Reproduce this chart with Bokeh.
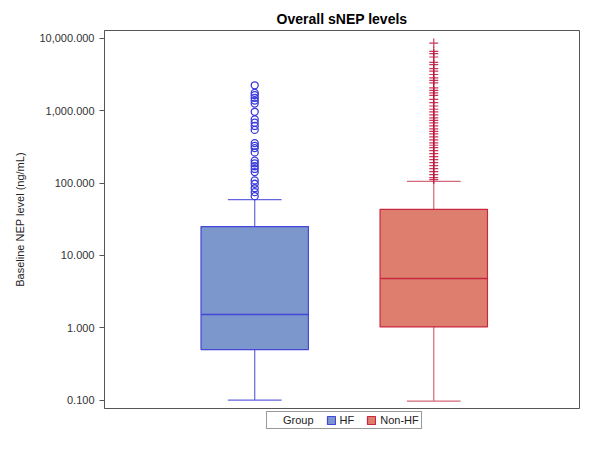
from bokeh.plotting import figure
from bokeh.layouts import column
from bokeh.models import Range1d, FixedTicker, NumeralTickFormatter, Legend, LegendItem
from bokeh.embed import file_html
from bokeh.resources import INLINE

# ---- data ----
groups = ["HF", "Non-HF"]
q1 = [0.50, 1.03]
median = [1.53, 4.79]
q3 = [25.1, 43.4]
whisker_low = [0.100, 0.097]
whisker_high = [59.0, 106.0]
hf_outliers = [2250, 1765, 1645, 1506, 1384, 1259, 968, 760, 685, 617, 544,
               357, 328, 305, 266, 205, 188, 171, 157, 142, 109, 98, 85, 75, 66]
nonhf_outliers = [8615, 6625, 6160, 5535, 4677, 4352, 3836, 3523, 3173, 2851,
                  2626, 2433, 2077, 1913, 1773, 1634, 1440, 1293, 1164, 1049,
                  964, 875, 796, 736, 680, 618, 562, 520, 480, 437, 397, 361,
                  334, 309, 281, 255, 232, 211, 192, 175, 159, 144, 131, 119, 112]
outliers = [hf_outliers, nonhf_outliers]
y_ticks = [0.1, 1, 10, 100, 1000, 10000]
legend_title = "Group"

# ---- styles ----
fills = ["#7B97CC", "#DE7E6E"]
lines = ["#4545DA", "#C8283F"]
whisk = ["#6464E0", "#D4687A"]
out_colors = ["#3A3ADC", "#C0143C"]
markers = ["circle", "cross"]
FONT = "Liberation Sans"
half_box = 0.30
half_cap = 0.15
NAN = float("nan")

p = figure(width=584, height=409, y_axis_type="log",
           x_range=Range1d(0.161, 2.814), y_range=Range1d(0.0767, 12870),
           output_backend="svg", toolbar_location=None,
           title="Overall sNEP levels",
           min_border_left=104, min_border_right=5, min_border_top=30,
           min_border_bottom=1)

for i, g in enumerate(groups):
    x = i + 1
    # whiskers
    p.segment(x0=[x, x], x1=[x, x], y0=[q3[i], q1[i]], y1=[whisker_high[i], whisker_low[i]],
              line_color=whisk[i], line_width=1.2)
    p.segment(x0=[x - half_cap, x - half_cap], x1=[x + half_cap, x + half_cap],
              y0=[whisker_high[i], whisker_low[i]], y1=[whisker_high[i], whisker_low[i]],
              line_color=whisk[i], line_width=1.2)
    # box
    p.quad(left=[x - half_box], right=[x + half_box], bottom=[q1[i]], top=[q3[i]],
           fill_color=fills[i], line_color=lines[i], line_width=1.2)
    # median
    p.segment(x0=[x - half_box], x1=[x + half_box], y0=[median[i]], y1=[median[i]],
              line_color=lines[i], line_width=1.5)
    # outliers
    if markers[i] == "circle":
        p.scatter(x=[x] * len(outliers[i]), y=outliers[i], marker="circle", size=7,
                  fill_color=None, line_color=out_colors[i], line_width=1.3)
    else:
        p.scatter(x=[x] * len(outliers[i]), y=outliers[i], marker="cross", size=9,
                  line_color=out_colors[i], line_width=1.2, line_alpha=0.85)

# axes
p.xaxis.visible = False
p.grid.visible = False
p.yaxis.ticker = FixedTicker(ticks=y_ticks, minor_ticks=[])
p.yaxis.formatter = NumeralTickFormatter(format="0,0.000")
p.yaxis.axis_label = "Baseline NEP level (ng/mL)"
p.yaxis.axis_label_text_font = FONT
p.yaxis.axis_label_text_font_size = "11px"
p.yaxis.axis_label_text_font_style = "normal"
p.yaxis.axis_label_text_color = "#222222"
p.yaxis.axis_label_standoff = 10
p.yaxis.major_label_text_font = FONT
p.yaxis.major_label_text_font_size = "11px"
p.yaxis.major_label_text_color = "#333333"
p.yaxis.major_tick_out = 5
p.yaxis.major_tick_in = 0
p.yaxis.minor_tick_out = 0
p.yaxis.minor_tick_in = 0
p.yaxis.axis_line_color = "#555555"
p.yaxis.major_tick_line_color = "#555555"
p.outline_line_color = "#555555"
p.outline_line_width = 1

p.title.text_font = FONT
p.title.text_font_size = "14px"
p.title.text_font_style = "bold"
p.title.align = "center"
p.title.text_color = "#000000"
p.title.standoff = 7

# ---- legend strip below the plot ----
lg = figure(width=584, height=25, x_range=Range1d(0, 1), y_range=Range1d(0, 1),
            output_backend="svg", toolbar_location=None, min_border=0)
lg.axis.visible = False
lg.grid.visible = False
lg.outline_line_color = None
dummy = lg.scatter(x=[NAN], y=[NAN], alpha=0)
items = [LegendItem(label=legend_title, renderers=[dummy])]
for i, g in enumerate(groups):
    r = lg.quad(left=[NAN], right=[NAN], bottom=[NAN], top=[NAN],
                fill_color=fills[i], line_color=lines[i], line_width=1.2)
    items.append(LegendItem(label=g, renderers=[r]))

legend = Legend(items=items, orientation="horizontal", location=(162, 5),
                label_text_font=FONT, label_text_font_size="11px",
                label_text_color="#222222",
                glyph_width=10, glyph_height=10, label_height=11, label_width=10,
                padding=2, spacing=12, margin=0, label_standoff=4,
                border_line_color="#333333", border_line_width=1,
                background_fill_color="white")
lg.add_layout(legend, "center")

layout = column(p, lg, spacing=0)
open("out.html", "w").write(file_html(layout, INLINE))
